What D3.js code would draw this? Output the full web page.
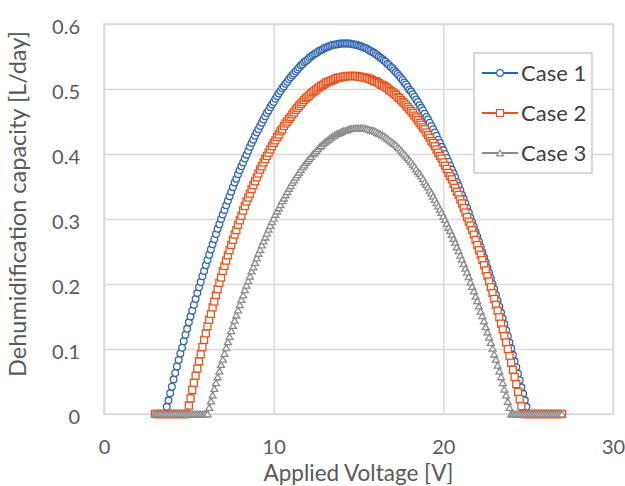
<!DOCTYPE html>
<html>
<head>
<meta charset="utf-8">
<script src="https://cdn.jsdelivr.net/npm/d3@7"></script>
<style>
  body { margin: 0; background: #fff; }
  text { font-family: Lato, "Open Sans", sans-serif; }
</style>
</head>
<body>
<svg id="chart" width="625" height="486"></svg>
<script>
// applied voltage [V], one sample every 0.1 V
const volts = [3,3.1,3.2,3.3,3.4,3.5,3.6,3.7,3.8,3.9,4,4.1,4.2,4.3,4.4,4.5,4.6,4.7,4.8,4.9,
  5,5.1,5.2,5.3,5.4,5.5,5.6,5.7,5.8,5.9,6,6.1,6.2,6.3,6.4,6.5,6.6,6.7,6.8,6.9,
  7,7.1,7.2,7.3,7.4,7.5,7.6,7.7,7.8,7.9,8,8.1,8.2,8.3,8.4,8.5,8.6,8.7,8.8,8.9,
  9,9.1,9.2,9.3,9.4,9.5,9.6,9.7,9.8,9.9,10,10.1,10.2,10.3,10.4,10.5,10.6,10.7,10.8,10.9,
  11,11.1,11.2,11.3,11.4,11.5,11.6,11.7,11.8,11.9,12,12.1,12.2,12.3,12.4,12.5,12.6,12.7,12.8,12.9,
  13,13.1,13.2,13.3,13.4,13.5,13.6,13.7,13.8,13.9,14,14.1,14.2,14.3,14.4,14.5,14.6,14.7,14.8,14.9,
  15,15.1,15.2,15.3,15.4,15.5,15.6,15.7,15.8,15.9,16,16.1,16.2,16.3,16.4,16.5,16.6,16.7,16.8,16.9,
  17,17.1,17.2,17.3,17.4,17.5,17.6,17.7,17.8,17.9,18,18.1,18.2,18.3,18.4,18.5,18.6,18.7,18.8,18.9,
  19,19.1,19.2,19.3,19.4,19.5,19.6,19.7,19.8,19.9,20,20.1,20.2,20.3,20.4,20.5,20.6,20.7,20.8,20.9,
  21,21.1,21.2,21.3,21.4,21.5,21.6,21.7,21.8,21.9,22,22.1,22.2,22.3,22.4,22.5,22.6,22.7,22.8,22.9,
  23,23.1,23.2,23.3,23.4,23.5,23.6,23.7,23.8,23.9,24,24.1,24.2,24.3,24.4,24.5,24.6,24.7,24.8,24.9,
  25,25.1,25.2,25.3,25.4,25.5,25.6,25.7,25.8,25.9,26,26.1,26.2,26.3,26.4,26.5,26.6,26.7,26.8,26.9,27];

// dehumidification capacity [L/day]
const case1 = [0,0,0,0,0,0,0,
  .011,.021,.032,.042,.053,.063,.073,.083,.093,.102,
  .112,.122,.131,.141,.150,.159,.168,.177,.186,.195,
  .203,.212,.220,.229,.237,.245,.253,.261,.269,.277,
  .285,.292,.300,.307,.314,.321,.328,.335,.342,.349,
  .356,.362,.369,.375,.381,.387,.393,.399,.405,.411,
  .417,.422,.428,.433,.438,.443,.448,.453,.458,.463,
  .467,.472,.476,.480,.485,.489,.493,.497,.501,.504,
  .508,.511,.515,.518,.521,.524,.527,.530,.533,.536,
  .538,.541,.543,.545,.548,.550,.552,.554,.555,.557,
  .559,.560,.561,.563,.564,.565,.566,.567,.568,.568,
  .569,.569,.570,.570,.570,.570,
  .570,.570,.570,.569,.569,.568,.568,.567,.566,.565,
  .564,.563,.562,.560,.559,.557,.556,.554,.552,.550,
  .548,.546,.544,.542,.539,.537,.534,.532,.529,.526,
  .523,.520,.517,.514,.510,.507,.503,.499,.496,.492,
  .488,.484,.480,.475,.471,.467,.462,.457,.453,.448,
  .443,.438,.433,.428,.422,.417,.411,.406,.400,.394,
  .388,.382,.376,.370,.364,.357,.351,.344,.337,.331,
  .324,.317,.310,.302,.295,.288,.280,.273,.265,.257,
  .249,.241,.233,.225,.217,.209,.200,.192,.183,.174,
  .165,.156,.147,.138,.129,.120,.110,.101,.091,.081,
  .072,.062,.052,.041,.031,.021,.011,
  0,0,0,0,0,0,0,0,0,0,0,0,0,0,0,0,0,0,0,0,0];

const case2 = [0,0,0,0,0,0,0,0,0,0,0,0,0,0,0,0,0,0,0,0,
  .013,.024,.037,.048,.059,.070,.081,.092,.103,.114,
  .124,.135,.145,.154,.164,.173,.183,.192,.202,.210,
  .220,.228,.236,.244,.252,.260,.268,.276,.283,.291,
  .298,.305,.313,.320,.327,.333,.339,.346,.352,.358,
  .364,.370,.376,.381,.387,.392,.397,.402,.407,.412,
  .417,.421,.426,.430,.435,.438,.443,.447,.450,.454,
  .457,.461,.464,.468,.471,.474,.477,.480,.483,.486,
  .488,.490,.493,.495,.497,.499,.501,.503,.505,.506,
  .508,.510,.511,.512,.513,.514,.515,.517,.517,.518,
  .518,.519,.519,.520,.520,.520,.520,
  .520,.520,.520,.519,.519,.518,.518,.517,.517,.516,
  .515,.514,.512,.512,.511,.509,.507,.506,.505,.503,
  .501,.499,.497,.495,.493,.491,.488,.486,.483,.480,
  .478,.475,.472,.469,.466,.463,.459,.456,.452,.448,
  .445,.441,.438,.433,.429,.425,.420,.417,.412,.407,
  .402,.397,.393,.387,.382,.377,.371,.366,.361,.354,
  .348,.342,.337,.330,.324,.317,.310,.303,.296,.290,
  .283,.276,.268,.260,.252,.245,.237,.229,.221,.212,
  .204,.195,.186,.177,.168,.159,.149,.139,.130,.120,
  .110,.100,.089,.079,.068,.057,.046,.034,.023,.012,
  0,0,0,0,0,0,0,0,0,0,0,0,0,0,0,0,0,0,0,0,0,0,0,0];

const case3 = [0,0,0,0,0,0,0,0,0,0,0,0,0,0,0,0,0,0,0,0,0,0,0,0,0,0,0,0,0,0,0,0,
  .010,.020,.029,.039,.048,.057,.066,.076,.084,.093,
  .102,.111,.119,.128,.136,.144,.152,.160,.168,.176,
  .183,.191,.198,.205,.212,.220,.226,.233,.240,.247,
  .253,.260,.266,.272,.278,.284,.290,.296,.301,.307,
  .312,.317,.322,.328,.332,.337,.342,.347,.351,.356,
  .360,.364,.368,.372,.376,.380,.383,.387,.390,.393,
  .396,.400,.402,.405,.408,.411,.413,.416,.418,.420,
  .422,.424,.426,.428,.429,.431,.432,.433,.434,.436,
  .436,.437,.438,.439,.439,.440,.440,.440,.440,
  .440,.440,.440,.439,.439,.438,.437,.437,.436,.435,
  .433,.432,.431,.429,.428,.426,.424,.422,.420,.418,
  .416,.414,.411,.409,.406,.403,.400,.397,.394,.391,
  .388,.384,.381,.377,.373,.370,.366,.362,.357,.353,
  .349,.344,.340,.335,.330,.325,.320,.315,.310,.304,
  .299,.293,.287,.282,.276,.270,.264,.257,.251,.244,
  .238,.231,.224,.218,.211,.203,.196,.189,.181,.174,
  .166,.158,.151,.143,.134,.126,.118,.110,.101,.092,
  .084,.075,.066,.057,.048,.038,.029,.019,.010,
  0,0,0,0,0,0,0,0,0,0,0,0,0,0,0,0,0,0,0,0,0,0,0,0,0,0,0,0,0,0,0];

const seriesNames = ["Case 1", "Case 2", "Case 3"];
const xTicks = [0, 10, 20, 30];
const yTicks = [0, 0.1, 0.2, 0.3, 0.4, 0.5, 0.6];

const plot = { left: 104, right: 613, top: 24, bottom: 414 }
    , gridColor = "#d9d9d9"
    , textColor = "#595959"
    , colors = ["#2f64b3", "#e8531d", "#8c8c8c"]
    , svg = d3.select("#chart");

const x = d3.scaleLinear().domain([0, 30]).range([plot.left, plot.right]);
const y = d3.scaleLinear().domain([0, 0.6]).range([plot.bottom, plot.top]);

// plot frame
svg.append("rect")
    .attr("x", plot.left).attr("y", plot.top)
    .attr("width", plot.right - plot.left).attr("height", plot.bottom - plot.top)
    .attr("fill", "#fff").attr("stroke", gridColor).attr("stroke-width", 1.5);

// y axis + horizontal gridlines
const gy = svg.append("g")
    .attr("transform", "translate(" + plot.left + ",0)")
    .call(d3.axisLeft(y).tickValues(yTicks).tickFormat(d => d)
        .tickSize(-(plot.right - plot.left)).tickPadding(24));
// x axis + vertical gridlines
const gx = svg.append("g")
    .attr("transform", "translate(0," + plot.bottom + ")")
    .call(d3.axisBottom(x).tickValues(xTicks).tickFormat(d => d)
        .tickSize(-(plot.bottom - plot.top)).tickPadding(26));
[gx, gy].forEach(g => {
    g.select(".domain").remove();
    g.selectAll(".tick line").attr("stroke", gridColor).attr("stroke-width", 1.5);
    g.selectAll(".tick text").attr("fill", textColor)
        .style("font-size", "20px").style("font-family", "Lato, sans-serif");
});
gy.selectAll(".tick text").attr("dy", "0.45em");

// axis titles
svg.append("text")
    .attr("x", (plot.left + plot.right) / 2).attr("y", 481)
    .attr("text-anchor", "middle").attr("fill", textColor)
    .style("font-size", "22.5px")
    .text("Applied Voltage [V]");
svg.append("text")
    .attr("transform", "translate(26,204) rotate(-90)")
    .attr("text-anchor", "middle").attr("fill", textColor)
    .style("font-size", "23.5px")
    .text("Dehumidification capacity [L/day]");

// markers
function drawMarker(g, k, cx, cy, size) {
    if (k === 0) {
        g.append("circle").attr("cx", cx).attr("cy", cy).attr("r", size * 0.42);
    } else if (k === 1) {
        g.append("rect").attr("x", cx - size / 2).attr("y", cy - size / 2)
            .attr("width", size).attr("height", size);
    } else {
        const h = size * 0.8;
        g.append("path").attr("d", "M" + cx + "," + (cy - h / 2) +
            "L" + (cx + size / 2) + "," + (cy + h / 2) + "L" + (cx - size / 2) + "," + (cy + h / 2) + "Z");
    }
}

const allSeries = [case1, case2, case3];
const line = d3.line();
allSeries.forEach((vals, k) => {
    const pts = volts.map((v, i) => [x(v), y(vals[i])]);
    const g = svg.append("g");
    g.append("path").attr("d", line(pts))
        .attr("fill", "none").attr("stroke", colors[k]).attr("stroke-width", 2);
    const mg = g.append("g").attr("fill", "#fff").attr("stroke", colors[k]).attr("stroke-width", 1.3);
    pts.forEach(p => drawMarker(mg, k, p[0], p[1], [8, 7, 7][k]));
});

// legend
const lg = svg.append("g");
lg.append("rect").attr("x", 474).attr("y", 53).attr("width", 118).attr("height", 120)
    .attr("fill", "#fff").attr("stroke", "#bfbfbf").attr("stroke-width", 1.2);
seriesNames.forEach((name, k) => {
    const cy = 73 + k * 40;
    lg.append("line").attr("x1", 482).attr("x2", 518).attr("y1", cy).attr("y2", cy)
        .attr("stroke", colors[k]).attr("stroke-width", 2.2);
    const mg = lg.append("g").attr("fill", "#fff").attr("stroke", colors[k]).attr("stroke-width", 1.2);
    drawMarker(mg, k, 500, cy, [8, 7, 7][k]);
    lg.append("text").attr("x", 521).attr("y", cy).attr("dy", "0.36em")
        .attr("fill", "#404040").style("font-size", "22px").text(name);
});
</script>
</body>
</html>
